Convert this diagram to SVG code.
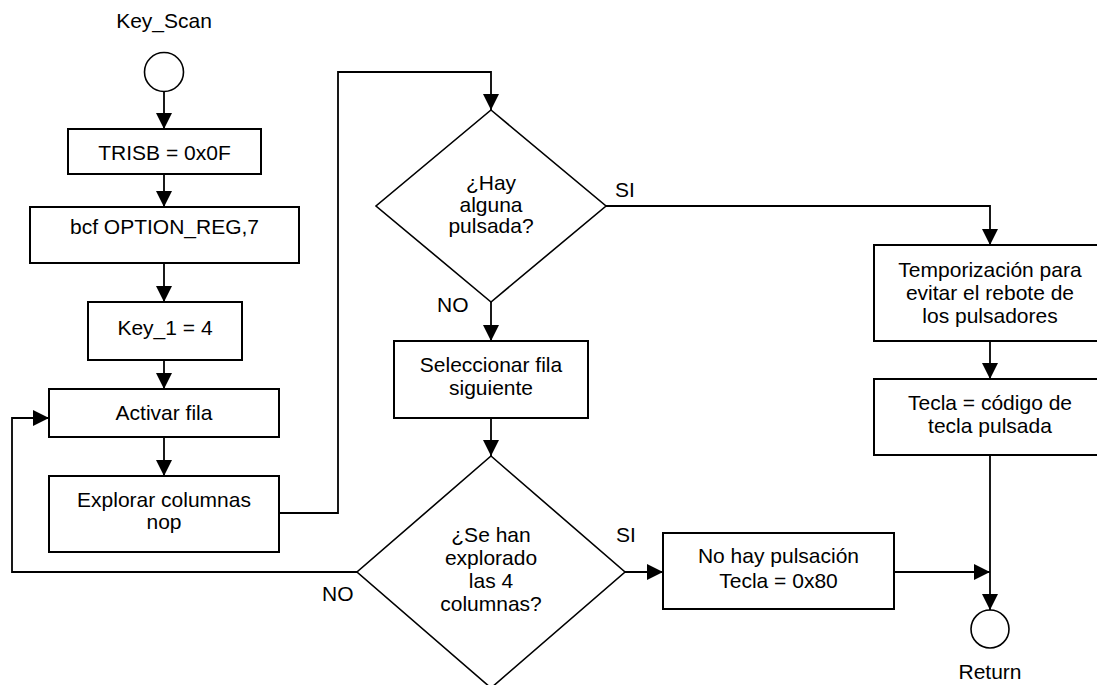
<svg xmlns="http://www.w3.org/2000/svg" width="1097" height="685" viewBox="0 0 1097 685">
  <style>
    .box { fill: #ffffff; stroke: #000000; stroke-width: 2; }
    .dia { fill: #ffffff; stroke: #000000; stroke-width: 1.6; }
    .term { fill: #ffffff; stroke: #000000; stroke-width: 1.6; }
    .wire { fill: none; stroke: #000000; stroke-width: 1.8; }
    text { font-family: "Liberation Sans", Arial, sans-serif; font-size: 21px; fill: #000000; text-anchor: middle; }
    .lbl { text-anchor: start; }
  </style>
  <defs>
    <marker id="arrow" markerUnits="userSpaceOnUse" markerWidth="16" markerHeight="16" refX="16" refY="8" orient="auto">
      <path d="M0,0 L16,8 L0,16 z" fill="#000000"/>
    </marker>
  </defs>
  <rect width="1097" height="685" fill="#ffffff"/>

  <!-- connectors -->
  <g id="connectors">
    <line class="wire" x1="164" y1="92" x2="164" y2="129" marker-end="url(#arrow)"/>
    <line class="wire" x1="164" y1="174" x2="164" y2="207" marker-end="url(#arrow)"/>
    <line class="wire" x1="164" y1="263" x2="164" y2="302" marker-end="url(#arrow)"/>
    <line class="wire" x1="164" y1="360" x2="164" y2="389" marker-end="url(#arrow)"/>
    <line class="wire" x1="164" y1="437" x2="164" y2="476" marker-end="url(#arrow)"/>
    <polyline class="wire" points="279,513 338,513 338,72 491,72 491,110" marker-end="url(#arrow)"/>
    <polyline class="wire" points="606,206 990,206 990,245" marker-end="url(#arrow)"/>
    <line class="wire" x1="491" y1="302" x2="491" y2="341" marker-end="url(#arrow)"/>
    <line class="wire" x1="491" y1="418" x2="491" y2="456" marker-end="url(#arrow)"/>
    <polyline class="wire" points="357,572 12,572 12,418 49,418" marker-end="url(#arrow)"/>
    <line class="wire" x1="625" y1="572" x2="663" y2="572" marker-end="url(#arrow)"/>
    <line class="wire" x1="894" y1="572" x2="990" y2="572" marker-end="url(#arrow)"/>
    <line class="wire" x1="990" y1="341" x2="990" y2="379" marker-end="url(#arrow)"/>
    <line class="wire" x1="990" y1="455" x2="990" y2="610" marker-end="url(#arrow)"/>
  </g>

  <g id="start">
    <text x="164" y="28">Key_Scan</text>
    <circle class="term" cx="164" cy="72" r="19.5"/>
  </g>

  <g id="trisb">
    <rect class="box" x="68" y="129" width="193" height="45"/>
    <text x="164.5" y="160">TRISB = 0x0F</text>
  </g>

  <g id="option-reg">
    <rect class="box" x="30" y="207" width="269" height="56"/>
    <text x="164.5" y="234">bcf OPTION_REG,7</text>
  </g>

  <g id="key1">
    <rect class="box" x="88" y="302" width="154" height="58"/>
    <text x="165" y="335">Key_1 = 4</text>
  </g>

  <g id="activar">
    <rect class="box" x="49" y="389" width="230" height="48"/>
    <text x="164" y="420">Activar fila</text>
  </g>

  <g id="explorar">
    <rect class="box" x="49" y="476" width="230" height="76"/>
    <text x="164" y="507">Explorar columnas</text>
    <text x="164" y="529">nop</text>
  </g>

  <g id="hay-pulsada">
    <polygon class="dia" points="491,110 606,206 491,302 376,206"/>
    <text x="491" y="190">¿Hay</text>
    <text x="491" y="211.5">alguna</text>
    <text x="491" y="233">pulsada?</text>
    <text class="lbl" x="615" y="197">SI</text>
    <text class="lbl" x="437" y="312">NO</text>
  </g>

  <g id="seleccionar">
    <rect class="box" x="394" y="341" width="194" height="77"/>
    <text x="491" y="372">Seleccionar fila</text>
    <text x="491" y="395">siguiente</text>
  </g>

  <g id="exploradas">
    <polygon class="dia" points="491,456 625,572 491,688 357,572"/>
    <text x="491" y="542">¿Se han</text>
    <text x="491" y="565">explorado</text>
    <text x="491" y="588">las 4</text>
    <text x="491" y="611">columnas?</text>
    <text class="lbl" x="616" y="542">SI</text>
    <text class="lbl" x="322" y="601">NO</text>
  </g>

  <g id="no-pulsacion">
    <rect class="box" x="663" y="533" width="231" height="76"/>
    <text x="778.5" y="563">No hay pulsación</text>
    <text x="778.5" y="588">Tecla = 0x80</text>
  </g>

  <g id="temporizacion">
    <rect class="box" x="874" y="245" width="232" height="96"/>
    <text x="990" y="277">Temporización para</text>
    <text x="990" y="300">evitar el rebote de</text>
    <text x="990" y="323">los pulsadores</text>
  </g>

  <g id="codigo-tecla">
    <rect class="box" x="874" y="379" width="232" height="76"/>
    <text x="990" y="410">Tecla = código de</text>
    <text x="990" y="433">tecla pulsada</text>
  </g>

  <g id="return">
    <circle class="term" cx="990" cy="629" r="19"/>
    <text x="990" y="679">Return</text>
  </g>
</svg>
